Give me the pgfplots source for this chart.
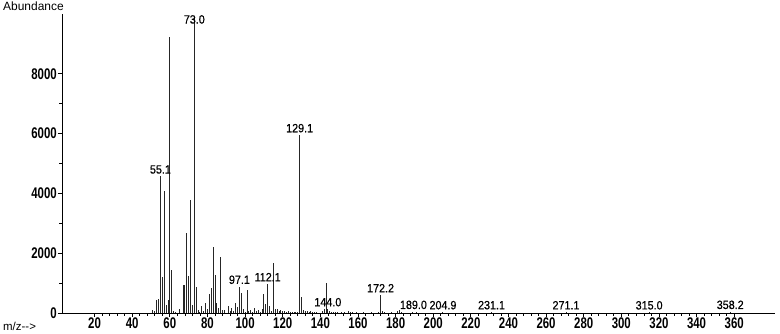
\documentclass[border=0pt]{standalone}
\usepackage{pgfplots}
\pgfplotsset{compat=1.18}
\usepackage{fontspec}
\setmainfont{Liberation Sans}
\newfontfamily\tickfont{Liberation Sans}[FakeStretch=0.74]
\newfontfamily\peakfont{Liberation Sans}[FakeStretch=0.9, FakeBold=0.6]
\begin{document}
\begin{tikzpicture}
\begin{axis}[
  scale only axis,
  width=713bp, height=299bp,
  xmin=2.67, xmax=381.7,
  ymin=0, ymax=10000,
  scaled ticks=false,
  axis x line=bottom, axis y line=left,
  axis line style={-, black, line width=0.8bp},
  xtick={20,40,...,360},
  minor x tick num=4,
  ytick={0,2000,4000,6000,8000},
  minor y tick num=1,
  tick align=outside,
  major tick length=4bp, minor tick length=2.5bp,
  tick style={black, line width=0.7bp},
  /pgf/number format/assume math mode=true,
  /pgf/number format/1000 sep={},
  ticklabel style={font=\tickfont\bfseries\fontsize{15.5}{15.5}\selectfont, inner sep=1bp},
  clip=false,
]
\addplot[ycomb, black!85, line width=0.9bp, mark=none] coordinates {
(51,100) (52,60) (53,450) (54,470) (55,4570) (56,1210) (57,4070) (58,270) (59,430)
(60,9230) (61,1430) (62,60) (63,40) (65,150) (67,930) (68,930) (69,2680) (70,1250)
(71,3770) (72,270) (73,9900) (74,870) (75,100) (76,40) (77,230) (78,60) (79,350)
(80,130) (81,630) (82,830) (83,2210) (84,1270) (85,330) (86,170) (87,1860) (88,100)
(89,90) (91,230) (92,60) (93,160) (94,80) (95,340) (96,200) (97,880) (98,680) (99,150)
(100,50) (101,770) (102,80) (103,100) (104,40) (105,170) (106,60) (107,100) (108,50)
(109,130) (110,650) (111,300) (112,970) (113,220) (114,60) (115,1680) (116,150)
(117,130) (118,70) (119,100) (120,60) (121,80) (122,50) (123,60) (124,40) (125,50)
(126,30) (127,40) (128,50) (129,5950) (130,520) (131,100) (132,60) (133,70) (134,40)
(135,60) (136,30) (137,40) (138,20) (141,60) (142,120) (143,990) (144,130) (145,60)
(146,30) (147,50) (148,30) (149,20) (151,20) (153,30) (155,80) (156,20) (157,40)
(159,20) (163,30) (167,20) (171,40) (172,600) (173,80) (174,20) (178,20) (181,70)
(182,90) (183,30) (189,40) (191,20) (205,30) (231,30) (271,30) (315,25) (358,40)
};
\begin{scope}[every node/.style={font=\peakfont\fontsize{12}{12}\selectfont, inner sep=0pt, anchor=south, yshift=2.5bp}]
\node at (axis cs:55,4570) {55.1};
\node at (axis cs:129,5950) {129.1};
\node at (axis cs:97,880) {97.1};
\node at (axis cs:112,970) {112.1};
\node at (axis cs:144,130) {144.0};
\node at (axis cs:172,600) {172.2};
\node at (axis cs:189.5,40) {189.0};
\node at (axis cs:205.2,30) {204.9};
\node at (axis cs:231,30) {231.1};
\node at (axis cs:270.6,30) {271.1};
\node at (axis cs:314.8,25) {315.0};
\node at (axis cs:357.9,40) {358.2};
\end{scope}
\node[font=\peakfont\fontsize{12}{12}\selectfont, inner sep=0pt, anchor=north] at ([yshift=-1bp]axis cs:73,10000) {73.0};
\end{axis}
\node[anchor=base west, inner sep=0pt, font=\fontsize{12}{12}\selectfont] at ([xshift=-59bp,yshift=3bp]current axis.north west) {Abundance};
\node[anchor=base west, inner sep=0pt, font=\fontsize{11.5}{12}\selectfont] at ([xshift=-59bp,yshift=-17.5bp]current axis.south west) {m/z-\kern0pt-\kern0pt>};
\pgfresetboundingbox
\path[use as bounding box] ([xshift=-62bp,yshift=-21bp]current axis.south west) rectangle ([xshift=5bp,yshift=14bp]current axis.north east);
\end{tikzpicture}
\end{document}
